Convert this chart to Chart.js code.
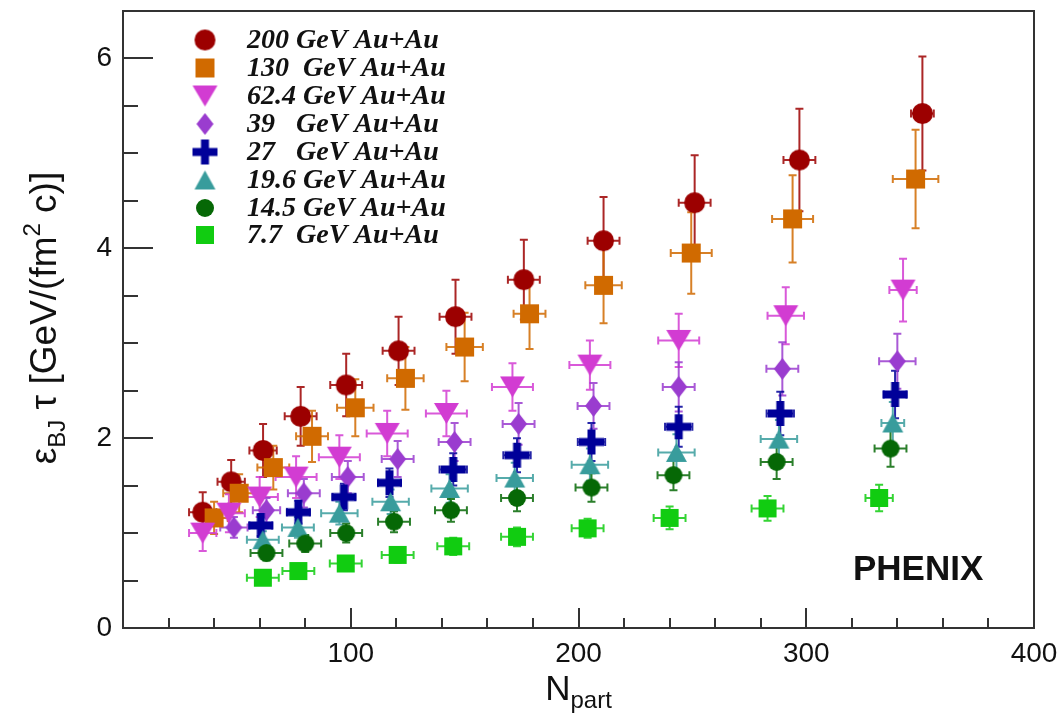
<!DOCTYPE html>
<html>
<head>
<meta charset="utf-8">
<script src="https://cdn.jsdelivr.net/npm/chart.js@4.4.1/dist/chart.umd.min.js"></script>
<style>
  html, body { margin: 0; padding: 0; background: #ffffff; }
  #wrap { width: 1063px; height: 713px; }
</style>
</head>
<body>
<div id="wrap"><canvas id="c" width="1063" height="713"></canvas></div>
<script>
// ---------------- DATA ----------------
const legendLabels = [
  '200 GeV Au+Au', '130  GeV Au+Au', '62.4 GeV Au+Au', '39   GeV Au+Au',
  '27   GeV Au+Au', '19.6 GeV Au+Au', '14.5 GeV Au+Au', '7.7  GeV Au+Au'
];

const npart200 = [35, 47.5, 61.5, 78, 98, 121, 146, 176, 211, 251, 297, 351];
const eps200   = [1.22, 1.54, 1.87, 2.23, 2.56, 2.92, 3.28, 3.67, 4.08, 4.48, 4.93, 5.42];
const yerr200  = [0.21, 0.23, 0.28, 0.31, 0.33, 0.36, 0.39, 0.42, 0.46, 0.50, 0.54, 0.60];
const xerr200  = [6, 6, 6, 7, 7, 7, 7, 7, 7, 7, 7, 5];

const npart130 = [40, 51, 66, 83, 102, 124, 150, 178.5, 211, 249.5, 294, 348];
const eps130   = [1.16, 1.42, 1.69, 2.02, 2.32, 2.63, 2.96, 3.31, 3.61, 3.95, 4.31, 4.73];
const yerr130  = [0.17, 0.20, 0.23, 0.27, 0.30, 0.33, 0.36, 0.37, 0.40, 0.43, 0.46, 0.52];
const xerr130  = [6, 7, 7, 7, 8, 8, 8, 7, 8, 9, 9, 10];

const npart62  = [35, 46.5, 60, 76, 95, 116, 142, 171, 205, 244, 291, 342.5];
const eps62    = [1.00, 1.21, 1.38, 1.59, 1.80, 2.05, 2.26, 2.54, 2.77, 3.03, 3.29, 3.56];
const yerr62   = [0.19, 0.20, 0.21, 0.22, 0.23, 0.24, 0.24, 0.25, 0.26, 0.28, 0.30, 0.33];
const xerr62   = [6, 7, 8, 9, 9, 9, 9, 9, 9, 9, 8, 6];

const npart39  = [48.7, 63, 79.4, 98.7, 120.6, 145.6, 173.7, 206.6, 244, 289.5, 340];
const eps39    = [1.06, 1.24, 1.42, 1.59, 1.78, 1.96, 2.15, 2.34, 2.54, 2.73, 2.81];
const yerr39   = [0.11, 0.13, 0.15, 0.17, 0.19, 0.20, 0.22, 0.24, 0.26, 0.28, 0.29];
const xerr39   = [6, 6, 7, 7, 7, 7, 7, 7, 7, 7, 8];

const npart27  = [60.5, 77, 97, 117, 145, 173, 205.7, 244, 288.6, 339];
const eps27    = [1.08, 1.22, 1.38, 1.53, 1.67, 1.82, 1.96, 2.12, 2.26, 2.46];
const yerr27   = [0.11, 0.12, 0.14, 0.15, 0.17, 0.18, 0.20, 0.21, 0.23, 0.25];
const xerr27   = [5, 5, 5, 5, 6, 6, 6, 6, 6, 5];

const npart19  = [61.4, 76.8, 95, 117.5, 143.4, 172, 205, 243, 288, 338];
const eps19    = [0.93, 1.06, 1.21, 1.33, 1.47, 1.58, 1.72, 1.85, 1.99, 2.16];
const yerr19   = [0.09, 0.11, 0.12, 0.13, 0.15, 0.16, 0.17, 0.19, 0.20, 0.22];
const xerr19   = [7, 7, 8, 8, 8, 8, 8, 8, 8, 5];

const npart14  = [63, 80, 98, 119, 144, 173, 205.7, 241.7, 287, 337];
const eps14    = [0.79, 0.89, 1.00, 1.12, 1.24, 1.37, 1.48, 1.61, 1.75, 1.89];
const yerr14   = [0.08, 0.09, 0.10, 0.11, 0.12, 0.14, 0.15, 0.16, 0.18, 0.19];
const xerr14   = [7, 7, 7, 7, 7, 7, 7, 7, 7, 7];

const npart7   = [61.4, 77, 97.8, 120.6, 145, 173, 204, 240, 283, 332];
const eps7     = [0.53, 0.60, 0.68, 0.77, 0.86, 0.96, 1.05, 1.16, 1.26, 1.37];
const yerr7    = [0.05, 0.06, 0.07, 0.08, 0.09, 0.10, 0.10, 0.12, 0.13, 0.14];
const xerr7    = [7, 7, 7, 7, 7, 7, 7, 7, 7, 6];

const xTickLabels = [100, 200, 300, 400];
const yTickLabels = [0, 2, 4, 6];

// ---------------- STYLE ----------------
const seriesColors = ['#9c0000', '#d06a00', '#d23cd2', '#9a3ccf', '#000099', '#389c9c', '#066806', '#11cc11'];
const seriesShapes = ['circle', 'square', 'triDown', 'diamond', 'plus', 'triUp', 'circle', 'square'];
const shapeSizes = [[21, 21], [19, 19], [25, 21], [17, 22], [25, 25], [21, 19], [18, 18], [18, 18]];

function makeMarker(shape, color, w, h) {
  const c = document.createElement('canvas');
  c.width = w + 2; c.height = h + 2;
  const g = c.getContext('2d');
  g.translate(c.width / 2, c.height / 2);
  g.fillStyle = color;
  g.beginPath();
  if (shape === 'circle') {
    g.arc(0, 0, w / 2, 0, Math.PI * 2);
  } else if (shape === 'square') {
    g.rect(-w / 2, -h / 2, w, h);
  } else if (shape === 'triDown') {
    g.moveTo(-w / 2, -h / 2); g.lineTo(w / 2, -h / 2); g.lineTo(0, h / 2); g.closePath();
  } else if (shape === 'triUp') {
    g.moveTo(0, -h / 2); g.lineTo(w / 2, h / 2); g.lineTo(-w / 2, h / 2); g.closePath();
  } else if (shape === 'diamond') {
    g.moveTo(0, -h / 2); g.lineTo(w / 2, 0); g.lineTo(0, h / 2); g.lineTo(-w / 2, 0); g.closePath();
  } else if (shape === 'plus') {
    const t = 8;
    g.rect(-w / 2, -t / 2, w, t);
    g.rect(-t / 2, -h / 2, t, h);
  }
  g.fill();
  return c;
}

const seriesX = [npart200, npart130, npart62, npart39, npart27, npart19, npart14, npart7];
const seriesY = [eps200, eps130, eps62, eps39, eps27, eps19, eps14, eps7];
const seriesYErr = [yerr200, yerr130, yerr62, yerr39, yerr27, yerr19, yerr14, yerr7];
const seriesXErr = [xerr200, xerr130, xerr62, xerr39, xerr27, xerr19, xerr14, xerr7];

const markers = seriesColors.map((col, i) => makeMarker(seriesShapes[i], col, shapeSizes[i][0], shapeSizes[i][1]));

const datasets = seriesX.map((xs, i) => ({
  label: legendLabels[i],
  data: xs.map((x, j) => ({ x: x, y: seriesY[i][j], xe: seriesXErr[i][j], ye: seriesYErr[i][j] })),
  pointStyle: markers[i],
  pointRadius: 10,
  pointHoverRadius: 10,
  backgroundColor: seriesColors[i],
  borderColor: seriesColors[i],
  showLine: false,
  order: 8 - i,
  errColor: seriesColors[i]
}));

// ---------------- PLUGINS ----------------
const errorBars = {
  id: 'errorBars',
  beforeDatasetsDraw(chart) {
    const ctx = chart.ctx;
    const xs = chart.scales.x, ys = chart.scales.y;
    ctx.save();
    ctx.lineWidth = 2;
    ctx.globalAlpha = 0.85;
    const cap = 4;
    chart.data.datasets.forEach((ds) => {
      ctx.strokeStyle = ds.errColor;
      ds.data.forEach(p => {
        const px = xs.getPixelForValue(p.x), py = ys.getPixelForValue(p.y);
        const x1 = xs.getPixelForValue(p.x - p.xe), x2 = xs.getPixelForValue(p.x + p.xe);
        const y1 = ys.getPixelForValue(p.y - p.ye), y2 = ys.getPixelForValue(p.y + p.ye);
        ctx.beginPath();
        ctx.moveTo(x1, py); ctx.lineTo(x2, py);
        ctx.moveTo(x1, py - cap); ctx.lineTo(x1, py + cap);
        ctx.moveTo(x2, py - cap); ctx.lineTo(x2, py + cap);
        ctx.moveTo(px, y1); ctx.lineTo(px, y2);
        ctx.moveTo(px - cap, y1); ctx.lineTo(px + cap, y1);
        ctx.moveTo(px - cap, y2); ctx.lineTo(px + cap, y2);
        ctx.stroke();
      });
    });
    ctx.restore();
  }
};

const frameTicks = {
  id: 'frameTicks',
  beforeDatasetsDraw(chart) {
    const ctx = chart.ctx;
    const a = chart.chartArea;
    const xs = chart.scales.x, ys = chart.scales.y;
    ctx.save();
    ctx.strokeStyle = '#333333';
    ctx.lineWidth = 2;
    ctx.strokeRect(a.left, a.top, a.right - a.left, a.bottom - a.top);
    ctx.beginPath();
    for (let v = 20; v < 400; v += 20) {
      const px = Math.round(xs.getPixelForValue(v));
      const len = (v % 100 === 0) ? 20 : 10;
      ctx.moveTo(px, a.bottom); ctx.lineTo(px, a.bottom - len);
    }
    for (let v = 0.5; v < 6.5; v += 0.5) {
      const py = Math.round(ys.getPixelForValue(v));
      const len = (v % 2 === 0) ? 30 : 15;
      ctx.moveTo(a.left, py); ctx.lineTo(a.left + len, py);
    }
    ctx.stroke();
    ctx.restore();
  }
};

const annotations = {
  id: 'annotations',
  afterDraw(chart) {
    const ctx = chart.ctx;
    ctx.save();
    // legend
    const rowY = [40, 68, 96, 124, 152, 180, 208, 235];
    ctx.font = 'bold italic 28px "Liberation Serif", "DejaVu Serif", serif';
    ctx.fillStyle = '#111';
    ctx.textBaseline = 'middle';
    ctx.textAlign = 'left';
    legendLabels.forEach((lab, i) => {
      const m = markers[i];
      ctx.drawImage(m, 205 - m.width / 2, rowY[i] - m.height / 2);
      ctx.fillText(lab, 247, rowY[i] + 1);
    });
    // PHENIX
    ctx.font = 'bold 35px "Liberation Sans", Arial, sans-serif';
    ctx.textBaseline = 'alphabetic';
    ctx.fillStyle = '#111';
    ctx.fillText('PHENIX', 853, 580);

    // x title
    const a = chart.chartArea;
    const cx = (a.left + a.right) / 2;
    ctx.font = '35px "Liberation Sans", Arial, sans-serif';
    const wN = ctx.measureText('N').width;
    ctx.font = '24px "Liberation Sans", Arial, sans-serif';
    const wP = ctx.measureText('part').width;
    let sx = cx - (wN + wP) / 2;
    ctx.font = '35px "Liberation Sans", Arial, sans-serif';
    ctx.fillText('N', sx, 700);
    ctx.font = '24px "Liberation Sans", Arial, sans-serif';
    ctx.fillText('part', sx + wN, 708);

    // y title (rotated)
    const pieces = [
      { t: 'ε', s: 37, dy: 0 },
      { t: 'BJ', s: 24, dy: 9 },
      { t: ' τ', s: 37, dy: 0 },
      { t: ' [GeV/(fm', s: 37, dy: 0 },
      { t: '2', s: 24, dy: -16 },
      { t: ' c)]', s: 37, dy: 0 }
    ];
    let total = 0;
    pieces.forEach(p => { ctx.font = p.s + 'px "Liberation Sans", Arial, sans-serif'; p.w = ctx.measureText(p.t).width; total += p.w; });
    ctx.translate(56, 318);
    ctx.rotate(-Math.PI / 2);
    let px = -total / 2;
    pieces.forEach(p => {
      ctx.font = p.s + 'px "Liberation Sans", Arial, sans-serif';
      ctx.fillText(p.t, px, p.dy);
      px += p.w;
    });
    ctx.restore();
  }
};

// ---------------- CHART ----------------
const tickFont = { family: '"Liberation Sans", Arial, sans-serif', size: 28 };
new Chart(document.getElementById('c'), {
  type: 'scatter',
  data: { datasets },
  options: {
    responsive: false,
    animation: false,
    devicePixelRatio: 1,
    layout: { padding: { top: 11, right: 29, left: 0, bottom: 0 } },
    plugins: { legend: { display: false }, tooltip: { enabled: false } },
    scales: {
      x: {
        type: 'linear', min: 0, max: 400,
        grid: { display: false, drawTicks: false },
        border: { display: false },
        ticks: { font: tickFont, color: '#111', padding: 9, maxRotation: 0, autoSkip: false },
        afterBuildTicks: s => { s.ticks = xTickLabels.map(v => ({ value: v })); },
        afterFit: s => { s.height = 85; s.paddingLeft = 0; s.paddingRight = 0; }
      },
      y: {
        type: 'linear', min: 0, max: 6.5,
        grid: { display: false, drawTicks: false },
        border: { display: false },
        ticks: { font: tickFont, color: '#111', padding: 11, autoSkip: false },
        afterBuildTicks: s => { s.ticks = yTickLabels.map(v => ({ value: v })); },
        afterFit: s => { s.width = 123; s.paddingTop = 0; s.paddingBottom = 0; }
      }
    }
  },
  plugins: [frameTicks, errorBars, annotations]
});
</script>
</body>
</html>
